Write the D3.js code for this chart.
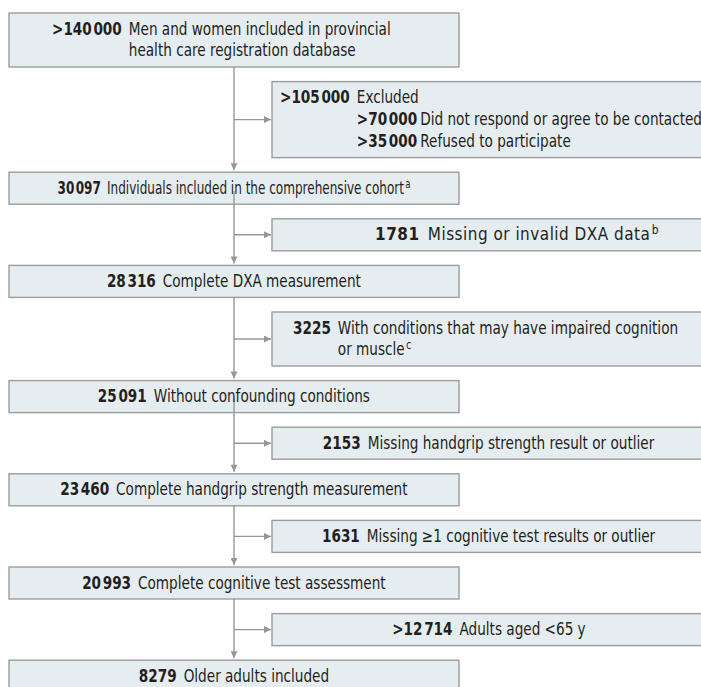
<!DOCTYPE html>
<html><head><meta charset="utf-8">
<script src="https://cdn.jsdelivr.net/npm/d3@7"></script>
<style>
body{margin:0;background:#fff}
svg{display:block}
text{font-family:"Liberation Sans Narrow","Arial Narrow","DejaVu Sans Condensed",sans-serif;fill:#231f20}
</style>
</head><body>
<script>
// ---- data ----
const mainCounts = [">140000", "30097", "28316", "25091", "23460", "20993", "8279"];
const mainLabels = [
  ["Men and women included in provincial", "health care registration database"],
  ["Individuals included in the comprehensive cohort"],
  ["Complete DXA measurement"],
  ["Without confounding conditions"],
  ["Complete handgrip strength measurement"],
  ["Complete cognitive test assessment"],
  ["Older adults included"]
];
const mainNotes = ["", "a", "", "", "", "", ""];
const exclCounts = [">105000", "1781", "3225", "2153", "1631", ">12714"];
const exclLabels = [
  ["Excluded"],
  ["Missing or invalid DXA data"],
  ["With conditions that may have impaired cognition", "or muscle"],
  ["Missing handgrip strength result or outlier"],
  ["Missing \u22651 cognitive test results or outlier"],
  ["Adults aged <65 y"]
];
const exclNotes = ["", "b", "c", "", "", ""];
const subCounts = [">70000", ">35000"];
const subLabels = ["Did not respond or agree to be contacted", "Refused to participate"];

// ---- layout / style ----
const W = 701, H = 687;
const FS = 17, LINE = 22, GAP = 14.6, TOP = 13, NUMGAP = 7.8, SX = 0.89, BASE = 21.5;
const fill = "#e6edf1", stroke = "#9c9c9c", lineCol = "#979797";
const x = d3.scaleLinear().domain([0, 1]).range([9, 459]);      // main column
const xs = d3.scaleLinear().domain([0, 1]).range([272, 800]);   // side column
const cx = x(0.5);
const mainAlign = [{mode: "left", pad: 43}, {mode: "center"}, {mode: "center"}, {mode: "center"}, {mode: "center"}, {mode: "center"}, {mode: "center"}];
const exclAlign = [{mode: "left", pad: 8}, {mode: "center", c: 245}, {mode: "left", pad: 21}, {mode: "center", c: 217}, {mode: "center", c: 217}, {mode: "center", c: 217}];
const mainStretch = [1, 0.885, 1, 1, 1, 1, 1];
const exclStretch = [1, 1.12, 1, 1, 1, 1];
const exclTracking = [0, 0.5, 0, 0, 0, 0];
const lineFromMid = [false, true, false, true, false, false, false];

const svg = d3.select("body").append("svg").attr("width", W).attr("height", H);
const defs = svg.append("defs");
defs.append("marker").attr("id", "arr").attr("viewBox", "0 0 10 10")
  .attr("refX", 10).attr("refY", 5).attr("markerUnits", "userSpaceOnUse")
  .attr("markerWidth", 9).attr("markerHeight", 7).attr("orient", "auto")
  .append("path").attr("d", "M0,0L10,5L0,10z").attr("fill", lineCol);

const rows = [];
mainCounts.forEach((c, i) => {
  rows.push({type: "main", i, lines: mainLabels[i].length});
  if (i < exclCounts.length)
    rows.push({type: "excl", i, lines: exclLabels[i].length + (i === 0 ? subCounts.length : 0)});
});
let yc = TOP;
rows.forEach(r => { r.h = 10 + LINE * r.lines; r.y = yc; yc += r.h + GAP; });
const mains = rows.filter(r => r.type === "main");
const excls = rows.filter(r => r.type === "excl");

function addCount(t, s) {
  const m = s.match(/^(\D*)(\d+)$/);
  const pre = m[1], d = m[2];
  if (d.length >= 5) {
    t.append("tspan").text(pre + d.slice(0, d.length - 3));
    t.append("tspan").attr("dx", 1.8).text(d.slice(-3));
  } else t.text(pre + d);
}
function addLabel(t, s, note) {
  t.append("tspan").text(s);
  if (note) t.append("tspan").attr("dy", -6).attr("dx", 1.5).style("font-size", "12px").style("letter-spacing", "0px").text(note);
}
function w(sel) { return sel.node().getBBox().width; }

function block(g, count, labels, note, subs, sx, track) {
  g.style("letter-spacing", track + "px");
  const num = g.append("text").attr("font-weight", "bold").style("font-size", FS + "px").attr("y", 0);
  addCount(num, count);
  const nw = w(num);
  const lx = nw + NUMGAP + track;
  let maxW = 0;
  labels.forEach((l, k) => {
    const t = g.append("text").attr("x", lx).attr("y", k * LINE).style("font-size", FS + "px");
    addLabel(t, l, k === labels.length - 1 ? note : "");
    maxW = Math.max(maxW, w(t));
  });
  if (subs) {
    subs.counts.forEach((c, k) => {
      const yy = (labels.length + k) * LINE;
      const sn = g.append("text").attr("font-weight", "bold").attr("x", lx).attr("y", yy).style("font-size", FS + "px");
      addCount(sn, c);
      g.append("text").attr("x", lx + w(sn) + 3.5).attr("y", yy).style("font-size", FS + "px").text(subs.labels[k]);
    });
  }
  return (lx + maxW) * sx;
}

function drawBox(r, x0, x1) {
  svg.append("rect").attr("x", x0).attr("y", r.y).attr("width", x1 - x0).attr("height", r.h)
    .attr("fill", fill).attr("stroke", stroke).attr("stroke-width", 1.4);
}
mains.forEach(r => drawBox(r, x(0), x(1)));
excls.forEach(r => drawBox(r, xs(0), xs(1)));

const conn = svg.append("g").attr("stroke", lineCol).attr("stroke-width", 1.4).attr("fill", "none");
mains.forEach((r, i) => {
  if (i === mains.length - 1) return;
  const y0 = lineFromMid[i] ? r.y + r.h / 2 + 3 : r.y + r.h;
  conn.append("line").attr("x1", cx).attr("x2", cx).attr("y1", y0).attr("y2", mains[i + 1].y - 2)
    .attr("marker-end", "url(#arr)");
});
excls.forEach(r => {
  const yy = r.y + r.h / 2;
  conn.append("line").attr("x1", cx).attr("x2", xs(0) - 1).attr("y1", yy).attr("y2", yy)
    .attr("marker-end", "url(#arr)");
});

mains.forEach((r, i) => {
  const g = svg.append("g");
  const sx = SX * mainStretch[i];
  const bw = block(g, mainCounts[i], mainLabels[i], mainNotes[i], null, sx, 0);
  const a = mainAlign[i];
  const tx = a.mode === "left" ? x(0) + a.pad : cx - bw / 2;
  g.attr("transform", `translate(${tx},${r.y + BASE}) scale(${sx},1)`);
});
excls.forEach((r, i) => {
  const g = svg.append("g");
  const sx = SX * exclStretch[i];
  const bw = block(g, exclCounts[i], exclLabels[i], exclNotes[i],
    i === 0 ? {counts: subCounts, labels: subLabels} : null, sx, exclTracking[i]);
  const a = exclAlign[i];
  const tx = a.mode === "left" ? xs(0) + a.pad : xs(0) + a.c - bw / 2;
  g.attr("transform", `translate(${tx},${r.y + BASE}) scale(${sx},1)`);
});
</script>
</body></html>
